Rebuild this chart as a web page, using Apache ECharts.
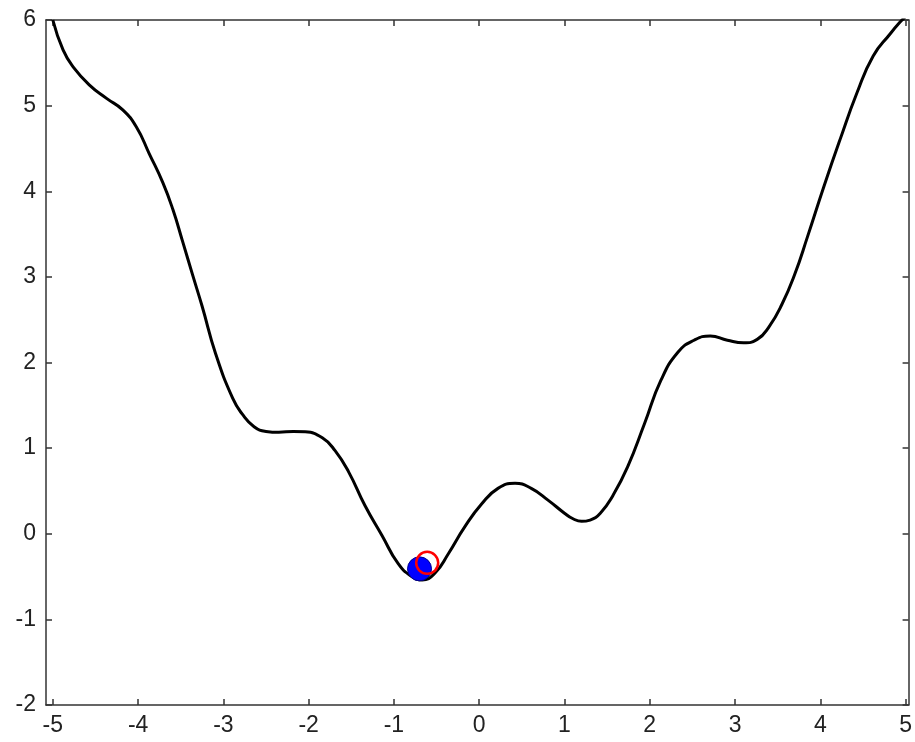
<!DOCTYPE html>
<html>
<head>
<meta charset="utf-8">
<script src="https://cdn.jsdelivr.net/npm/echarts@6/dist/echarts.min.js"></script>
<style>
html,body{margin:0;padding:0;background:#fff;}
#c{width:915px;height:742px;}
</style>
</head>
<body>
<div id="c"></div>
<script>
const curveX = [-5.00,-4.88,-4.76,-4.57,-4.37,-4.18,-4.02,-3.87,-3.71,-3.59,-3.48,-3.36,-3.25,-3.09,-2.89,-2.78,-2.64,-2.50,-2.35,-2.18,-2.04,-1.84,-1.69,-1.53,-1.34,-1.14,-0.95,-0.79,-0.67,-0.52,-0.36,-0.17,0.03,0.22,0.42,0.61,0.81,1.00,1.10,1.20,1.30,1.42,1.57,1.74,1.94,2.13,2.33,2.52,2.71,2.91,3.10,3.26,3.40,3.55,3.70,3.85,4.04,4.23,4.43,4.62,4.82,4.93,5.00];
const curveY = [6.00,5.65,5.45,5.24,5.085,4.95,4.75,4.44,4.10,3.78,3.42,3.02,2.66,2.10,1.58,1.40,1.25,1.195,1.185,1.195,1.19,1.12,0.97,0.72,0.33,-0.02,-0.35,-0.50,-0.54,-0.46,-0.23,0.08,0.35,0.53,0.59,0.53,0.39,0.24,0.175,0.145,0.16,0.24,0.45,0.78,1.29,1.79,2.12,2.26,2.31,2.26,2.23,2.27,2.42,2.68,3.03,3.47,4.05,4.60,5.15,5.58,5.84,5.97,6.04];
const bluePoint = [-0.70, -0.41];
const redPoint = [-0.61, -0.34];
const xTicks = [-5,-4,-3,-2,-1,0,1,2,3,4,5];
const yTicks = [-2,-1,0,1,2,3,4,5,6];

const chart = echarts.init(document.getElementById('c'), null, {renderer:'canvas'});
const axisCol = '#333';
const lbl = {fontFamily:'Liberation Sans, Arial, sans-serif', fontSize:23, color:'#222'};
const curveData = curveX.map((x,i)=>[x, curveY[i]]);

chart.setOption({
  animation:false,
  backgroundColor:'#fff',
  grid:{left:46, right:3, top:20, bottom:37, containLabel:false},
  xAxis:[
    {type:'value', min:-5.08, max:5.035, position:'bottom',
     axisLine:{show:true, onZero:false, lineStyle:{color:axisCol, width:1.5}},
     axisTick:{show:true, inside:true, length:6, customValues:xTicks, lineStyle:{color:axisCol, width:1.5}},
     axisLabel:{show:true, margin:9, customValues:xTicks, ...lbl},
     splitLine:{show:false}},
    {type:'value', min:-5.08, max:5.035, position:'top',
     axisLine:{show:true, onZero:false, lineStyle:{color:axisCol, width:1.5}},
     axisTick:{show:true, inside:true, length:6, customValues:xTicks, lineStyle:{color:axisCol, width:1.5}},
     axisLabel:{show:false},
     splitLine:{show:false}}
  ],
  yAxis:[
    {type:'value', min:-2, max:6, interval:1, position:'left',
     axisLine:{show:true, onZero:false, lineStyle:{color:axisCol, width:1.5}},
     axisTick:{show:true, inside:true, length:6, lineStyle:{color:axisCol, width:1.5}},
     axisLabel:{show:true, margin:10, customValues:yTicks, ...lbl},
     splitLine:{show:false}},
    {type:'value', min:-2, max:6, interval:1, position:'right',
     axisLine:{show:true, onZero:false, lineStyle:{color:axisCol, width:1.5}},
     axisTick:{show:true, inside:true, length:6, lineStyle:{color:axisCol, width:1.5}},
     axisLabel:{show:false},
     splitLine:{show:false}}
  ],
  series:[
    {type:'line', data:curveData, smooth:0.5, showSymbol:false, clip:true,
     lineStyle:{color:'#000', width:3}, z:2},
    {type:'scatter', data:[bluePoint], symbol:'circle', symbolSize:24,
     itemStyle:{color:'#0000ff', opacity:1, borderColor:'#00008b', borderWidth:1}, z:3},
    {type:'scatter', data:[redPoint], symbol:'circle', symbolSize:22,
     itemStyle:{color:'rgba(0,0,0,0)', opacity:1, borderColor:'#ff0000', borderWidth:2.5}, z:4}
  ]
});
</script>
</body>
</html>
